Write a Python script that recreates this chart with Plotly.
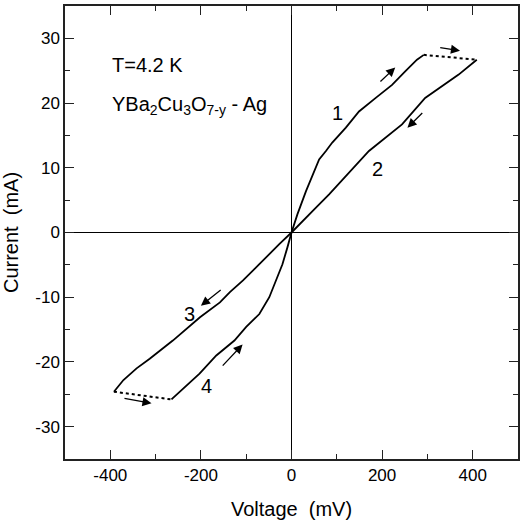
import plotly.graph_objects as go

# Branch 1 (0 -> +V, increasing)
v1 = [0, 13, 32, 50, 61, 76, 90, 120, 149, 186, 222, 251, 277, 292]
i1 = [0, 2.8, 6.4, 9.5, 11.3, 12.6, 13.9, 16.2, 18.7, 20.8, 22.8, 24.9, 26.7, 27.45]
# dotted jump at top
v_top = [292, 409]
i_top = [27.45, 26.7]
# Branch 2 (+V -> 0, decreasing)
v2 = [409, 369, 295, 244, 171, 127, 105, 83, 54, 24, 0]
i2 = [26.7, 24.4, 20.8, 16.7, 12.6, 9.2, 7.45, 5.9, 3.85, 1.8, 0]
# Branch 3 (0 -> -V)
v3 = [0, -27, -71, -107, -136, -158, -202, -262, -313, -342, -371, -392]
i3 = [0, -1.8, -4.9, -7.4, -9.2, -10.8, -13.1, -16.7, -19.5, -21.0, -22.8, -24.6]
# dotted jump at bottom
v_bot = [-392, -265]
i_bot = [-24.6, -25.8]
# Branch 4 (-V -> 0)
v4 = [-265, -203, -166, -126, -100, -71, -49, -34, -20, -9, 0]
i4 = [-25.8, -21.8, -19.0, -16.7, -14.6, -12.6, -10.0, -7.4, -4.9, -2.3, 0]

# Direction arrows: (tail V, tail I, head V, head I)
arrows = [
    (193, 23.1, 229, 25.5),
    (325, 28.6, 372, 28.1),
    (292, 18.7, 256, 16.2),
    (-153, -8.7, -200, -11.3),
    (-372, -25.6, -309, -26.4),
    (-155, -20.8, -108, -17.3),
]
# Branch labels
label_text = ["1", "2", "3", "4"]
label_v = [101, 189, -225, -187]
label_i = [18.5, 9.75, -12.6, -23.7]

x_ticks = [-400, -200, 0, 200, 400]
y_ticks = [-30, -20, -10, 0, 10, 20, 30]

FONT = "Arial, 'Liberation Sans', sans-serif"

fig = go.Figure()
line_solid = dict(color="black", width=1.8)
line_dot = dict(color="black", width=2, dash="dot")
for vx, iy, ln in [(v1, i1, line_solid), (v_top, i_top, line_dot), (v2, i2, line_solid),
                   (v3, i3, line_solid), (v_bot, i_bot, line_dot), (v4, i4, line_solid)]:
    fig.add_trace(go.Scatter(x=vx, y=iy, mode="lines", line=ln, showlegend=False,
                             hoverinfo="skip"))

for (tx, ty, hx, hy) in arrows:
    fig.add_annotation(x=hx, y=hy, ax=tx, ay=ty, xref="x", yref="y", axref="x", ayref="y",
                       showarrow=True, arrowhead=2, arrowsize=1.4, arrowwidth=1.3,
                       arrowcolor="black", text="")

for t, vx, iy in zip(label_text, label_v, label_i):
    fig.add_annotation(x=vx, y=iy, xref="x", yref="y", text=t, showarrow=False,
                       font=dict(size=20, color="black", family=FONT))

fig.add_annotation(x=-400, y=25.9, xref="x", yref="y", xanchor="left", text="T=4.2 K",
                   showarrow=False, font=dict(size=20, color="black", family=FONT))
fig.add_annotation(x=-400, y=19.7, xref="x", yref="y", xanchor="left",
                   text="YBa<sub>2</sub>Cu<sub>3</sub>O<sub>7-y</sub> - Ag",
                   showarrow=False, font=dict(size=20, color="black", family=FONT))

axis_common = dict(
    showline=True, linecolor="#222", linewidth=1.5, mirror="ticks",
    ticks="inside", ticklen=9, tickwidth=1.3, tickcolor="#222",
    showgrid=False, zeroline=True, zerolinecolor="black", zerolinewidth=1.2,
    tickfont=dict(size=17, color="black", family=FONT),
    minor=dict(ticks="inside", ticklen=5, tickwidth=1.3, tickcolor="#222", showgrid=False),
)

fig.update_xaxes(range=[-500, 500], tickvals=x_ticks, ticktext=[str(v) for v in x_ticks],
                 minor_dtick=100, minor_tick0=0,
                 title=dict(text="Voltage  (mV)", font=dict(size=20, color="black", family=FONT),
                            standoff=18),
                 **axis_common)
fig.update_yaxes(range=[-35, 35], tickvals=y_ticks, ticktext=[str(v) for v in y_ticks],
                 minor_dtick=5, minor_tick0=0,
                 title=dict(text="Current  (mA)", font=dict(size=20, color="black", family=FONT),
                            standoff=12),
                 **axis_common)

fig.update_layout(
    width=524, height=526,
    margin=dict(l=65, r=4, t=4, b=67),
    plot_bgcolor="white", paper_bgcolor="white",
    font=dict(family=FONT, color="black"),
)

fig.write_html("out.html")
